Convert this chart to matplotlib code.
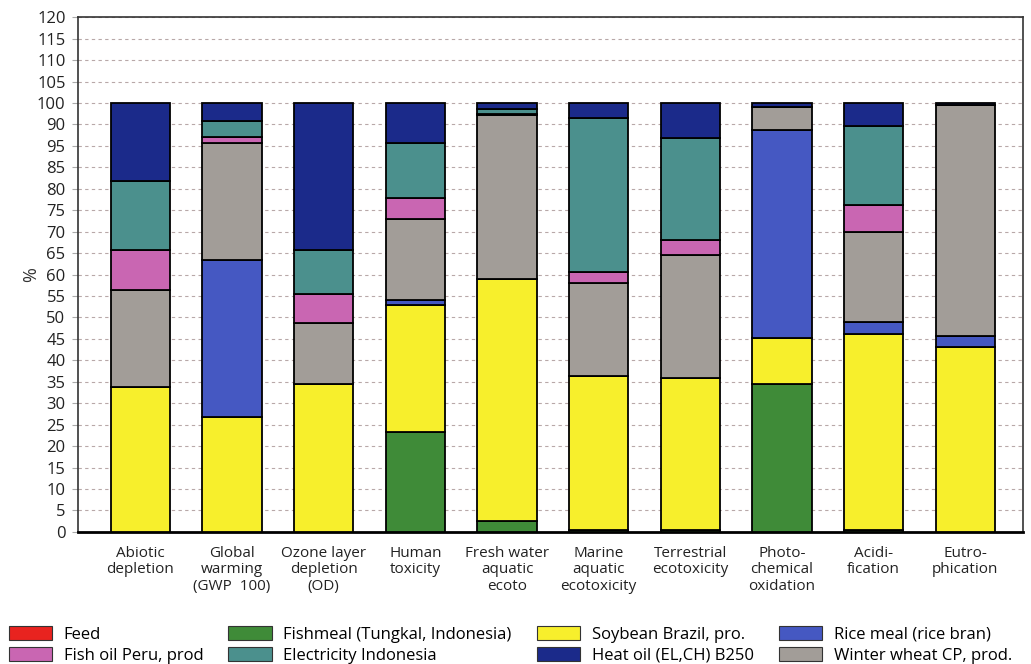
import matplotlib
matplotlib.use("Agg")
import matplotlib.pyplot as plt
import matplotlib.patches as mpatches
import numpy as np

plt.rcParams['font.family'] = ['Open Sans', 'DejaVu Sans']

categories = ["Abiotic\ndepletion", "Global\nwarming\n(GWP  100)", "Ozone layer\ndepletion\n(OD)",
              "Human\ntoxicity", "Fresh water\naquatic\necoto", "Marine\naquatic\necotoxicity",
              "Terrestrial\necotoxicity", "Photo-\nchemical\noxidation", "Acidi-\nfication",
              "Eutro-\nphication"]

# stacked from bottom to top
feed        = [0.0, 0.0, 0.0, 0.0, 0.0, 0.0, 0.0, 0.0, 0.0, 0.0]
fishmeal    = [0.0, 0.0, 0.0, 23.3, 2.5, 0.5, 0.5, 34.5, 0.5, 0.0]
soybean     = [33.8, 26.8, 34.5, 29.6, 56.5, 35.9, 35.4, 10.7, 45.7, 43.1]
rice_meal   = [0.0, 36.6, 0.0, 1.1, 0.0, 0.0, 0.0, 48.5, 2.8, 2.6]
wheat       = [22.6, 27.3, 14.2, 19.0, 38.2, 21.6, 28.7, 5.3, 21.0, 53.8]
fish_oil    = [9.3, 1.4, 6.8, 4.9, 0.3, 2.6, 3.4, 0.0, 6.2, 0.0]
electricity = [16.1, 3.6, 10.2, 12.8, 1.0, 35.9, 23.8, 0.0, 18.4, 0.0]
heat_oil    = [18.2, 4.3, 34.3, 9.3, 1.5, 3.5, 8.2, 1.0, 5.4, 0.5]

series = [
    ("Feed", feed, "#e8231f"),
    ("Fishmeal (Tungkal, Indonesia)", fishmeal, "#3f8b38"),
    ("Soybean Brazil, pro.", soybean, "#f7ef2c"),
    ("Rice meal (rice bran)", rice_meal, "#4558c2"),
    ("Winter wheat CP, prod.", wheat, "#a29d98"),
    ("Fish oil Peru, prod", fish_oil, "#c966b2"),
    ("Electricity Indonesia", electricity, "#4b908d"),
    ("Heat oil (EL,CH) B250", heat_oil, "#1b2a8a"),
]

yticks = list(range(0, 125, 5))
ylabels = ["0", "5", "10", "15", "20", "25", "30", "35", "40", "45", "50", "55", "60",
           "65", "70", "75", "80", "85", "95", "90", "100", "105", "110", "115", "120"]

fig = plt.figure(figsize=(10.31, 6.64), dpi=100)
ax = fig.add_axes([0.0757, 0.199, 0.9166, 0.775])

x = np.arange(len(categories))
bottom = np.zeros(len(categories))
for name, vals, col in series:
    vals = np.array(vals)
    ax.bar(x, vals, 0.65, bottom=bottom, color=col, edgecolor="black", linewidth=1.3, zorder=3)
    bottom += vals

ax.set_ylim(0, 120)
ax.set_xlim(-0.68, 9.63)
ax.set_yticks(yticks)
ax.set_yticklabels(ylabels, fontsize=12, color="#222222")
ax.set_xticks(x)
ax.set_xticklabels(categories, fontsize=11, color="#222222", linespacing=1.15)
ax.tick_params(axis="x", length=0, pad=10)
ax.tick_params(axis="y", length=4, color="#aaaaaa", pad=5)
ax.yaxis.grid(True, linestyle=(0, (3, 3)), color="#b8a8a8", linewidth=0.8, zorder=0)
for s in ["left", "top", "right"]:
    ax.spines[s].set_linewidth(1.2)
    ax.spines[s].set_color("#333333")
ax.spines["bottom"].set_linewidth(2)
ax.set_ylabel("%", fontsize=13, color="#333333")
ax.yaxis.set_label_coords(-0.04, 0.5)

handles = [mpatches.Patch(facecolor=c, edgecolor="#333333", linewidth=0.8, label=n)
           for n, v, c in series]
order = [0, 5, 1, 6, 2, 7, 3, 4]
fig.legend([handles[i] for i in order], [series[i][0] for i in order],
           loc="lower left", bbox_to_anchor=(-0.006, -0.022), ncol=4, frameon=False,
           fontsize=12, handlelength=2.6, handleheight=0.9, columnspacing=1.5,
           handletextpad=0.7, labelspacing=0.25)

fig.savefig("out.png", dpi=100)
